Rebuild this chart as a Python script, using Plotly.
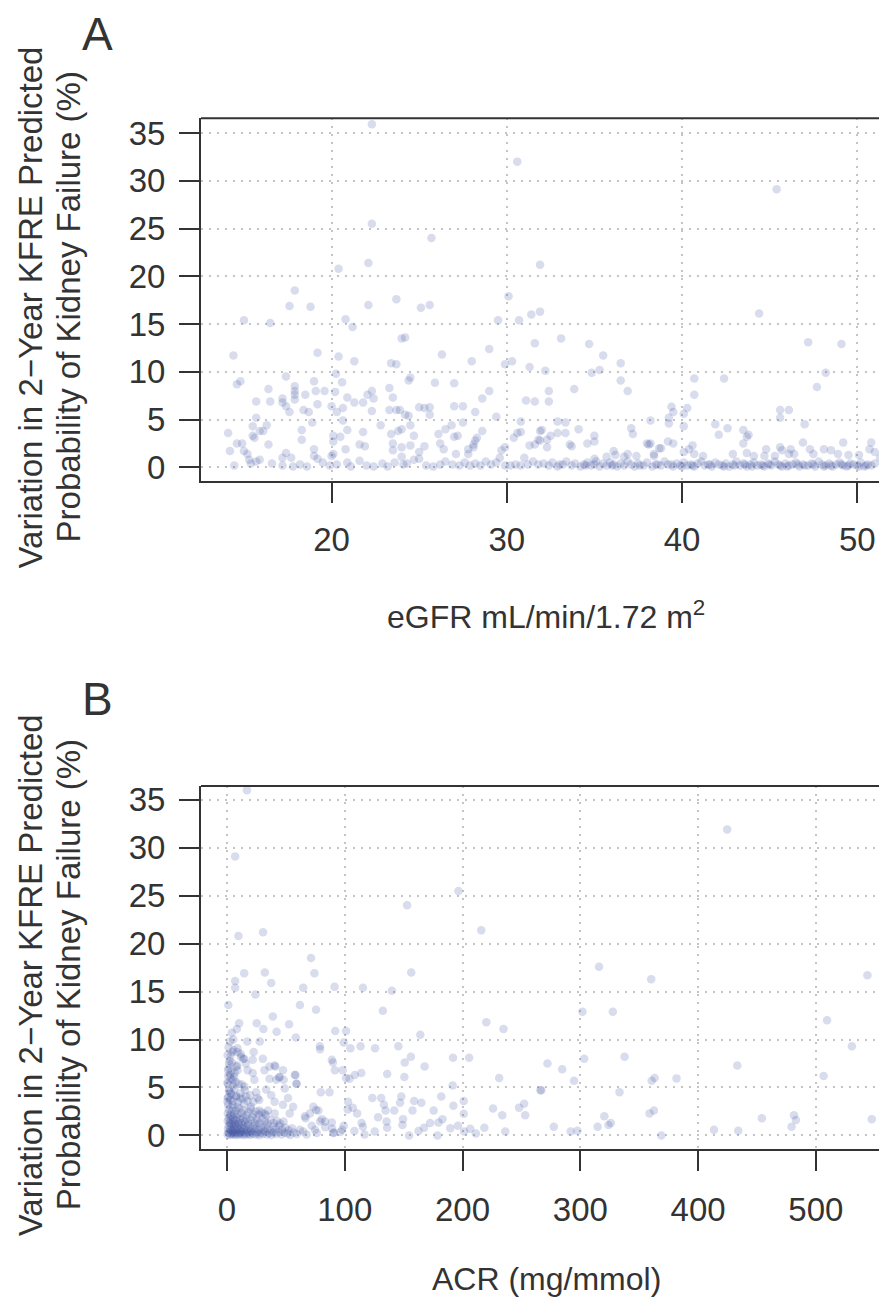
import plotly.graph_objects as go

# ---------------- Panel A : eGFR vs variation (%) ----------------
egfr_high = [(22.3,35.9),(30.6,32.0),(45.4,29.1),(22.3,25.5),(25.7,24.0),(20.4,20.8),(22.1,21.4),(31.9,21.2),
    (17.9,18.5),(23.7,17.6),(30.1,17.9),(17.6,16.9),(18.8,16.8),(22.1,17.0),(25.1,16.7),(25.6,17.0),(15.0,15.4),
    (16.5,15.1),(20.8,15.5),(21.2,14.7),(29.5,15.4),(30.7,15.4),(31.4,16.0),(31.9,16.3),(44.4,16.1),(24.0,13.5),
    (24.2,13.6),(31.6,13.0),(33.1,13.5),(34.7,12.9),(47.2,13.1),(49.1,12.9),(14.4,11.7),(19.2,12.0),(20.4,11.6),
    (21.3,11.1),(23.4,10.9),(23.7,10.8),(26.3,11.8),(28.0,11.1),(29.0,12.4),(29.9,10.8),(30.3,11.1),(31.3,10.5),
    (35.5,11.7),(36.5,10.9),(35.3,10.2),(32.2,10.1)]
egfr_mid = [(34.85,9.9),(36.5,9.1),(36.9,8.0),(33.85,8.2),(32.4,8.0),(32.4,6.9),(31.6,6.9),(48.2,9.9),(47.7,8.4),
    (40.7,9.3),(42.4,9.3),(40.7,7.6),(39.4,6.35),(39.5,5.8),(40.3,6.2),(40.1,5.6),(39.25,5.2),(45.6,6.0),(46.1,6.0),
    (45.6,5.2),(14.6,8.7),(14.8,9.0),(17.4,9.5),(17.9,8.5),(17.9,8.0),(17.9,7.6),(17.9,7.1),(16.4,8.2),(15.7,6.9),
    (16.5,6.9),(17.2,7.2),(17.2,6.8),(17.4,6.4),(17.6,5.8),(18.4,6.0),(18.5,7.6),(18.7,5.8),(19.0,9.0),(19.1,8.0),
    (19.2,6.6),(19.6,8.0),(20.0,6.4),(20.25,9.8),(20.6,8.9),(20.2,7.9),(20.3,5.8),(20.65,6.2),(20.9,7.3),(21.3,6.8),
    (21.8,6.8),(22.05,7.6),(22.3,8.0),(22.4,7.2),(22.3,5.9),(23.3,8.3),(23.5,7.3),(23.3,6.0),(23.7,6.0),(23.9,6.0),
    (24.2,5.5),(24.4,5.4),(24.4,9.1),(24.5,9.4),(25.0,6.3),(25.3,6.2),(25.6,6.3),(25.6,5.5),(25.9,8.85),(27.0,6.4),
    (27.0,8.8),(27.5,6.4),(28.2,5.8),(28.6,7.2),(29.0,8.0),(29.4,5.3),(31.1,7.0),(15.7,5.2)]
egfr_low = [(18.9,4.7),(18.3,3.9),(18.3,2.9),(20.65,4.9),(20.9,3.9),(20.5,3.2),(20.1,3.3),(20.1,2.7),(21.8,3.7),
    (21.6,2.4),(21.9,2.2),(20.8,1.9),(22.8,4.4),(23.4,3.5),(23.8,3.8),(24.0,4.0),(24.5,4.4),(24.7,3.3),(23.5,2.5),
    (23.5,1.8),(24.0,2.1),(24.0,1.1),(24.5,2.3),(25.0,1.6),(25.0,0.9),(25.3,2.2),(26.1,3.5),(26.2,2.5),(26.4,1.9),
    (26.5,4.0),(26.85,4.4),(27.5,4.7),(27.0,3.2),(27.2,3.3),(28.6,3.8),(28.3,3.1),(28.2,2.8),(28.1,2.4),(28.1,2.1),
    (27.8,1.4),(27.8,1.9),(27.1,1.4),(29.9,2.1),(29.7,1.8),(30.4,3.1),(30.6,3.6),(30.8,3.7),(30.8,4.8),(31.9,3.8),
    (31.3,2.3),(31.6,2.4),(31.8,2.9),(14.1,3.6),(14.2,1.7),(14.6,2.5),(14.9,2.5),(15.0,1.7),(15.2,1.4),(15.3,0.8),
    (15.5,3.3),(15.6,3.1),(15.5,4.3),(15.9,3.8),(16.1,3.8),(16.3,4.4),(16.4,2.4),(17.2,1.0),(17.4,1.5),(17.7,1.0),
    (19.0,1.9),(19.0,1.2),(19.2,0.9),(20.0,1.2),(20.1,1.4),(38.2,4.9),(39.25,4.6),(40.1,4.3),(47.0,4.5),(41.9,4.5),
    (42.6,4.1),(42.1,3.4),(43.5,3.9),(43.7,3.2),(43.5,2.5),(43.8,3.4),(37.1,4.1),(37.2,3.5),(32.0,3.9),(32.5,3.3),
    (32.3,2.9),(31.9,2.8),(32.3,2.1),(32.9,4.8),(33.35,4.7),(32.9,3.6),(33.35,3.6),(34.1,4.0),(35.0,3.3),(34.6,2.5),
    (35.0,2.7),(33.6,2.4),(33.7,2.2),(38.0,2.5),(38.1,2.4),(38.2,2.5),(39.2,2.7),(39.5,2.5),(38.7,2.0),(38.8,2.0),
    (40.6,2.3),(40.4,1.9),(40.1,1.6),(40.7,1.4),(41.2,1.2),(44.8,1.9),(45.6,2.1),(45.7,1.8),(46.2,1.9),(46.9,2.6),
    (47.3,1.9),(47.5,1.4),(48.1,1.9),(48.5,1.8),(48.9,1.4),(49.2,2.6),(49.5,1.3),(50.1,1.3),(50.7,1.9),(51.0,1.6),
    (51.3,1.0),(50.8,2.6),(42.9,1.4),(43.7,1.5),(44.1,1.2),(44.7,1.2),(45.3,1.2),(46.1,1.4),(46.4,1.4),(35.7,1.1),
    (35.0,0.9),(36.1,1.7),(36.2,1.3),(36.7,1.1),(36.9,1.4),(37.4,1.2),(38.4,1.4),(38.4,1.2)]
egfr_base = [(14.45,0.2),(15.4,0.4),(15.7,0.6),(15.9,0.8),(16.6,0.4),(17.2,0.2),(17.8,0.1),(18.2,0.3),(18.6,0.1),
    (19.5,0.5),(19.9,0.2),(20.3,0.3),(20.9,0.5),(21.1,0.1),(21.6,0.7),(22.0,0.2),(22.4,0.1),(22.9,0.4),(23.2,0.1),
    (23.6,0.5),(24.1,0.3),(24.3,0.4),(24.7,0.8),(25.4,0.2),(25.8,0.1),(26.2,0.3),(26.5,0.6),(26.9,0.3),(27.3,0.2),
    (27.6,0.5),(27.9,0.2),(28.2,0.4),(28.5,0.2),(28.8,0.6),(29.1,0.3),(29.4,0.5),(29.6,1.0),(29.9,0.2),(30.2,0.2),
    (30.5,0.3),(30.8,0.2),(31.0,1.0),(31.2,0.3),(31.5,0.6),(31.8,0.3),(32.1,0.4),(32.4,0.2),(32.6,0.5),(32.9,0.1),
    (33.2,0.3),(33.4,0.6),(33.7,0.2),(33.9,0.4),(34.2,0.1),(34.4,0.3),(34.6,0.5),(34.8,0.2),(35.0,0.3),(35.1,0.6),
    (35.3,0.1),(35.5,0.4),(35.7,0.2),(35.9,0.5),(36.1,0.3),(36.3,0.1),(36.5,0.4),(36.7,0.2),(36.9,0.6),(37.1,0.3),
    (37.3,0.1),(37.5,0.4),(37.8,0.2),(38.0,0.5),(38.3,0.1),(38.5,0.3),(38.8,0.2),(39.0,0.6),(39.2,0.3),(39.5,0.1),
    (39.7,0.4),(39.9,0.2),(40.1,0.5),(40.3,0.2),(40.5,0.3),(40.7,0.1),(40.9,0.4),(41.1,0.6),(41.3,0.2),(41.5,0.3),
    (41.7,0.1),(41.9,0.5),(42.1,0.3),(42.3,0.2),(42.5,0.4),(42.7,0.1),(42.9,0.3),(43.1,0.6),(43.3,0.2),(43.5,0.4),
    (43.7,0.1),(43.9,0.3),(44.1,0.5),(44.3,0.2),(44.5,0.3),(44.7,0.1),(44.9,0.4),(45.1,0.2),(45.3,0.6),(45.5,0.3),
    (45.7,0.1),(45.9,0.4),(46.1,0.2),(46.3,0.3),(46.5,0.5),(46.7,0.1),(46.9,0.3),(47.2,0.2),(47.4,0.4),(47.6,0.1),
    (47.8,0.6),(48.0,0.3),(48.2,0.2),(48.4,0.4),(48.6,0.1),(48.8,0.3),(49.0,0.5),(49.2,0.2),(49.4,0.1),(49.6,0.4),
    (49.8,0.3),(50.0,0.2),(50.2,0.5),(50.4,0.1),(50.6,0.3),(50.8,0.2),(51.0,0.4),(43.0,0.2),(43.6,0.3),(44.0,0.1),
    (44.6,0.2),(45.0,0.3),(45.6,0.2),(46.0,0.1),(46.6,0.3),(47.0,0.2),(47.5,0.3),(48.1,0.1),(48.5,0.2),(49.1,0.3),
    (49.5,0.2),(50.1,0.1),(50.5,0.2),(36.0,0.2),(38.6,0.3),(40.0,0.1),(40.6,0.2),(41.6,0.3),(42.4,0.1),(34.5,0.2),
    (33.0,0.3),(37.6,0.2),(39.4,0.3)]

# ---------------- Panel B : ACR vs variation (%) ----------------
acr_high = [(16.9,36.0),(6.9,29.1),(196.5,25.5),(152.9,24.0),(9.7,20.8),(30.6,21.2),(215.9,21.4),(71.3,18.5),
    (14.6,16.9),(32.1,17.0),(74.2,16.9),(156.4,17.0),(424.7,31.9),(315.9,17.6),(360.2,16.3),(543.8,16.7),(6.9,16.1),
    (6.9,15.4),(37.5,15.9),(24.1,14.7),(64.7,15.4),(91.3,15.5),(115.4,15.4),(140.0,15.1),(1.1,13.6),(61.9,13.6),
    (75.6,13.1),(132.3,13.0),(301.8,12.9),(327.6,12.9),(509.5,12.0),(220.2,11.8),(234.8,11.1),(38.9,12.4),(10.3,11.7),
    (25.2,11.7),(52.7,11.6),(8.3,11.1),(4.0,10.7),(30.9,11.1),(42.1,10.8),(58.4,10.2),(91.9,10.9),(101.1,10.9),
    (5.4,10.0),(17.2,9.8),(27.8,9.8),(99.1,9.7),(104.8,9.1),(113.4,9.3),(125.7,9.1),(145.5,9.3),(164.1,10.5),
    (79.0,9.0),(530.6,9.3)]
acr_mid = [(4.6,8.7),(8.9,9.1),(11.7,8.5),(14.6,8.0),(21.8,7.9),(30.4,8.0),(22.6,8.7),(156.1,8.2),(150.9,7.6),
    (167.8,7.2),(191.9,8.1),(205.6,8.1),(231.1,6.0),(150.6,6.1),(89.9,7.6),(91.6,6.8),(98.2,6.8),(41.0,7.2),
    (47.5,6.8),(58.1,6.3),(44.1,6.05),(48.1,5.8),(59.0,5.4),(36.1,5.9),(101.1,6.0),(104.0,5.9),(108.5,6.3),
    (114.0,6.5),(136.0,6.4),(191.6,5.2),(266.1,4.7),(79.6,4.5),(87.0,4.5),(272.1,7.5),(284.6,6.9),(294.7,5.7),
    (303.3,8.0),(337.6,8.2),(433.3,7.3),(360.6,5.7),(363.1,6.0),(381.7,5.95),(506.6,6.2),(266.9,4.7),(333.3,4.5),
    (5.4,8.9),(8.9,8.7),(11.7,8.2),(13.6,8.0),(3.2,8.4),(1.7,7.5),(0.9,6.8),(2.6,6.3),(6.0,6.1),(4.6,5.8),
    (17.5,6.8),(21.8,6.5),(23.2,5.8),(8.9,6.8),(8.6,7.3),(0.9,5.4),(31.8,6.8),(36.1,7.2),(40.4,7.3),(57.6,6.3),
    (59.0,5.4),(78.9,9.3),(89.0,7.9),(0.3,5.5),(0.9,6.2),(1.5,7.0),(2.2,7.8),(0.5,8.4),(1.3,9.2),(2.5,9.8),(3.0,5.9),
    (3.7,6.7),(4.2,7.6),(5.3,5.2),(6.5,6.5),(7.2,5.6),(8.0,7.2),(9.7,5.4),(12.5,5.3),(14.8,5.1),(16.0,7.5)]
acr_low = [(1.7,4.7),(3.2,4.4),(7.5,4.05),(11.2,3.9),(16.1,4.05),(0.6,3.9),(0.9,3.2),(4.6,3.2),(8.9,3.0),(14.6,3.3),
    (20.3,3.0),(26.0,3.9),(33.2,4.8),(37.5,4.2),(41.8,5.8),(44.7,6.1),(49.0,4.9),(40.4,3.5),(47.5,3.2),(51.8,3.9),
    (56.1,3.0),(53.2,2.3),(40.4,2.3),(33.2,2.1),(27.5,2.6),(73.3,3.0),(77.6,2.6),(66.1,2.0),(80.5,1.7),(71.9,1.0),
    (83.3,0.85),(90.5,0.3),(89.0,1.35),(123.4,3.9),(130.9,3.9),(148.0,4.05),(158.9,3.6),(165.0,3.4),(181.9,4.05),
    (146.9,3.4),(133.2,3.2),(134.6,2.6),(142.0,2.6),(157.5,2.6),(175.5,2.6),(192.2,3.1),(201.0,3.6),(201.0,2.25),
    (225.9,2.8),(233.7,2.1),(248.0,2.9),(252.3,3.3),(253.2,2.1),(102.8,3.5),(106.8,2.9),(110.5,2.3),(114.3,1.3),
    (115.4,0.9),(102.5,2.7),(99.1,1.0),(108.2,0.45),(116.8,0.1),(125.4,0.4),(128.3,1.9),(135.5,1.45),(136.0,0.8),
    (148.9,1.1),(149.5,1.7),(154.6,0.0),(162.6,0.45),(167.3,0.8),(172.4,1.3),(179.6,1.35),(183.0,1.7),(178.7,0.0),
    (189.6,0.75),(196.1,1.0),(201.3,0.4),(206.5,0.7),(211.3,0.2),(218.5,0.8),(236.3,0.4),(89.3,0.7),(90.5,0.25),
    (96.2,0.35),(97.7,0.6),(74.7,0.6),(76.2,0.25),(67.6,0.1),(64.7,0.4),(61.9,0.6),(79.0,1.45),(83.3,1.45),
    (75.6,2.65),(70.4,2.3),(66.7,1.8),(320.4,2.0),(325.9,1.3),(323.9,1.1),(314.7,0.9),(277.5,0.9),(291.8,0.4),
    (297.5,0.5),(358.8,2.3),(362.5,2.6),(368.8,0.0),(413.5,0.6),(434.1,0.5),(454.2,1.8),(481.4,2.1),(483.1,1.6),
    (479.4,0.9),(547.5,1.7),(558.2,0.6),(0.4,3.5),(1.1,4.0),(1.9,4.6),(2.8,3.7),(3.8,4.3),(5.0,3.6),(6.3,4.9),
    (7.8,4.1),(9.5,3.5),(11.3,4.4),(13.2,3.8),(15.3,4.7),(17.5,3.6),(19.8,4.2),(22.2,3.5),(24.7,4.5),(27.3,3.7)]
acr_base = [(0.5,0.1),(1.2,0.3),(2.0,0.2),(2.8,0.05),(3.5,0.4),(4.3,0.15),(5.1,0.3),(6.0,0.1),(6.8,0.25),(7.7,0.05),
    (8.5,0.35),(9.4,0.2),(10.3,0.1),(11.2,0.3),(12.1,0.15),(13.0,0.4),(14.0,0.05),(15.0,0.25),(16.1,0.1),(17.2,0.35),
    (18.3,0.2),(19.5,0.05),(20.7,0.3),(22.0,0.15),(23.3,0.4),(24.6,0.1),(26.0,0.25),(27.5,0.05),(29.0,0.3),
    (30.6,0.15),(32.3,0.4),(34.0,0.1),(35.8,0.25),(37.7,0.05),(39.7,0.3),(41.8,0.15),(44.0,0.35),(46.3,0.1),
    (48.7,0.3),(51.2,0.2),(53.8,0.05),(56.5,0.3),(59.3,0.15),(0.8,0.7),(1.6,1.0),(2.4,0.6),(3.2,0.9),(4.0,1.2),
    (4.8,0.55),(5.7,0.85),(6.5,1.1),(7.4,0.6),(8.2,0.95),(9.1,0.7),(10.0,1.15),(11.0,0.5),(12.0,0.8),(13.1,1.05),
    (14.2,0.65),(15.4,0.9),(16.6,0.55),(17.9,1.1),(19.2,0.75),(20.6,0.5),(22.1,0.95),(23.7,0.7),(25.3,1.15),
    (27.0,0.6),(28.8,0.85),(30.7,0.55),(32.7,1.0),(34.8,0.7),(37.0,0.5),(39.3,0.9),(41.7,0.65),(44.2,1.0),
    (46.8,0.6),(49.5,0.8),(52.3,0.55),(55.2,0.75),(0.6,1.5),(1.4,1.8),(2.2,1.3),(3.0,1.65),(3.9,2.0),(4.7,1.4),
    (5.6,1.75),(6.6,1.25),(7.6,1.6),(8.7,1.9),(9.8,1.35),(11.0,1.7),(12.3,1.3),(13.6,1.85),(15.0,1.45),(16.5,1.7),
    (18.1,1.25),(19.8,1.6),(21.6,1.9),(23.5,1.35),(25.5,1.65),(27.6,1.3),(29.8,1.8),(32.1,1.45),(34.5,1.25),
    (37.0,1.6),(39.6,1.3),(42.3,1.5),(45.1,1.25),(48.0,1.45),(0.7,2.3),(1.5,2.7),(2.5,2.1),(3.6,2.5),(4.8,2.9),
    (6.1,2.2),(7.5,2.6),(9.0,2.15),(10.6,2.8),(12.3,2.35),(14.1,2.6),(16.0,2.1),(18.0,2.45),(20.1,2.75),(22.3,2.2),
    (24.6,2.5),(27.0,2.15),(29.5,2.4),(32.1,2.25),(34.8,2.6)]

egfr_pts = egfr_high + egfr_mid + egfr_low + egfr_base
acr_pts = acr_high + acr_mid + acr_low + acr_base

y_ticks = [0, 5, 10, 15, 20, 25, 30, 35]
egfr_ticks = [20, 30, 40, 50]
acr_ticks = [0, 100, 200, 300, 400, 500]

FONT = "Liberation Sans, Arial, Helvetica, sans-serif"
TXT = "#333333"
PT_COLOR = "rgba(58,82,160,0.2)"

# The page body has an 8px margin: the figure is sized to fit the window and
# all reference pixel positions are mapped through these helpers.
OFF = 8
W, H = 887 - OFF, 1306 - OFF
def px_x(p):
    return (p - OFF) / W
def px_y(p):
    return 1 - (p - OFF) / H

fig = go.Figure()
fig.add_trace(go.Scatter(x=[p[0] for p in egfr_pts], y=[p[1] for p in egfr_pts], mode="markers",
                         marker=dict(size=8.5, color=PT_COLOR, line=dict(width=0)), xaxis="x", yaxis="y",
                         showlegend=False, hoverinfo="skip"))
fig.add_trace(go.Scatter(x=[p[0] for p in acr_pts], y=[p[1] for p in acr_pts], mode="markers",
                         marker=dict(size=8.5, color=PT_COLOR, line=dict(width=0)), xaxis="x2", yaxis="y2",
                         showlegend=False, hoverinfo="skip"))

xdom = [px_x(201), 1.0]
ydomA = [px_y(480), px_y(115)]
ydomB = [px_y(1152.7), px_y(787.3)]

grid = dict(showgrid=True, gridcolor="#c4c4c4", gridwidth=1.5, griddash="2px,6px", zeroline=False)
axline = dict(showline=True, linecolor="#333333", linewidth=2, ticks="outside", ticklen=20, tickwidth=1.5,
              tickcolor="#333333", tickfont=dict(family=FONT, size=33, color=TXT))

fig.update_layout(
    width=W, height=H, margin=dict(l=0, r=0, t=0, b=0),
    paper_bgcolor="white", plot_bgcolor="white",
    xaxis=dict(domain=xdom, anchor="y", range=[12.55, 52.16 - 8 / 17.32], tickvals=egfr_ticks,
               ticklabelstandoff=9, **grid, **axline),
    yaxis=dict(domain=ydomA, anchor="x", range=[-1.40, 36.54], tickvals=y_ticks, ticklabelstandoff=7,
               **grid, **axline),
    xaxis2=dict(domain=xdom, anchor="y2", range=[-22.1, 567.3 - 8 / 1.164], tickvals=acr_ticks,
                ticklabelstandoff=11, **grid, **axline),
    yaxis2=dict(domain=ydomB, anchor="x2", range=[-1.39, 36.45], tickvals=y_ticks, ticklabelstandoff=7,
                **grid, **axline),
)

# top border lines of each box
for ytop in (ydomA[1], ydomB[1]):
    fig.add_shape(type="line", xref="paper", yref="paper", x0=xdom[0], x1=1.0, y0=ytop, y1=ytop,
                  line=dict(color="#333333", width=2))

def ann(text, x, y, size=33, angle=0):
    fig.add_annotation(text=text, x=px_x(x), y=px_y(y), xref="paper", yref="paper", showarrow=False,
                       xanchor="center", yanchor="middle", textangle=angle,
                       font=dict(family=FONT, size=size, color=TXT))

# panel letters
ann("A", 97, 30, size=46)
ann("B", 97, 700, size=46)

# x-axis titles
ann("eGFR mL/min/1.72 m<sup>2</sup>", 546, 615, size=32)
ann("ACR (mg/mmol)", 546, 1284, size=32)

# y-axis titles (two lines)
for yc in ((115 + 480) / 2 + 8, (787 + 1153) / 2 + 8):
    ann("Variation in 2\u2212Year KFRE Predicted", 30, yc, angle=-90)
    ann("Probability of Kidney Failure (%)", 68, yc, angle=-90)

fig.write_html("out.html")
